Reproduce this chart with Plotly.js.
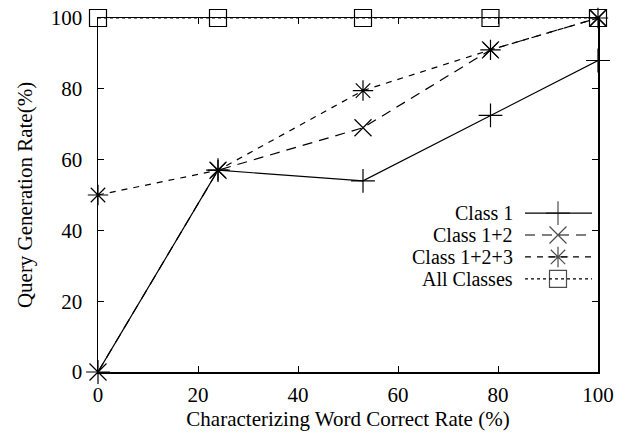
<!DOCTYPE html>
<html>
<head>
<meta charset="utf-8">
<script src="https://cdn.plot.ly/plotly-3.0.1.min.js"></script>
<style>html,body{margin:0;padding:0;background:#fff;}#chart{width:625px;height:439px;}</style>
</head>
<body>
<div id="chart"></div>
<script>
var xVals = [0, 24, 53, 78.5, 100];
var class1 = [0, 57, 54, 72.5, 88];
var class12 = [0, 57, 69, 91, 100];
var class123 = [50, 57, 79.5, 91, 100];
var allClasses = [100, 100, 100, 100, 100];
var seriesNames = ["Class 1", "Class 1+2", "Class 1+2+3", "All Classes"];
var tickVals = [0, 20, 40, 60, 80, 100];

var font = "'Liberation Serif', 'Times New Roman', serif";
var styles = [
  {dash: "solid", symbol: "cross-thin-open"},
  {dash: "10px,7px", symbol: "x-thin-open"},
  {dash: "6px,6px", symbol: "asterisk-open"},
  {dash: "3px,3px", symbol: "square-open"}
];
var seriesData = [class1, class12, class123, allClasses];

var traces = [];
seriesData.forEach(function(ys, i) {
  traces.push({
    x: xVals, y: ys, type: "scatter", mode: "lines+markers",
    name: seriesNames[i], showlegend: false, cliponaxis: false,
    line: {color: "#000", width: 1.2, dash: styles[i].dash},
    marker: {symbol: styles[i].symbol, size: 17, color: "#000", line: {color: "#000", width: 1.2}}
  });
});

// legend samples (layout positions in overlay axes)
var legRows = [0.449, 0.387, 0.325, 0.263];
var annotations = [];
seriesNames.forEach(function(n, i) {
  traces.push({
    x: [0.854, 0.92, 0.988], y: [legRows[i], legRows[i], legRows[i]],
    xaxis: "x2", yaxis: "y2", type: "scatter", mode: "lines+markers",
    showlegend: false, hoverinfo: "skip", cliponaxis: false,
    line: {color: "#000", width: 1.2, dash: styles[i].dash},
    marker: {symbol: styles[i].symbol, size: [0, 17, 0], color: "#000", line: {color: "#000", width: 1.2}}
  });
  annotations.push({
    text: n, xref: "paper", yref: "paper", x: 0.832, y: legRows[i],
    xanchor: "right", yanchor: "middle", showarrow: false, borderpad: 0,
    font: {family: font, size: 20, color: "#000"}
  });
});

var axisCommon = {
  range: [0, 100], tickvals: tickVals, ticktext: tickVals.map(String),
  ticks: "inside", ticklen: 6, tickwidth: 1, tickcolor: "#000",
  showline: true, linecolor: "#000", linewidth: 1.5, mirror: "allticks",
  showgrid: false, zeroline: false,
  tickfont: {family: font, size: 21, color: "#000"}
};

var layout = {
  width: 625, height: 439,
  margin: {l: 98, r: 27, t: 18, b: 67},
  paper_bgcolor: "#fff", plot_bgcolor: "#fff",
  showlegend: false,
  xaxis: Object.assign({}, axisCommon, {
    ticklabelstandoff: 3,
    title: {text: "Characterizing Word Correct Rate (%)", font: {family: font, size: 21, color: "#000"}, standoff: 5}
  }),
  yaxis: Object.assign({}, axisCommon, {
    ticklabelstandoff: 10,
    title: {text: "Query Generation Rate(%)", font: {family: font, size: 21, color: "#000"}, standoff: 12}
  }),
  xaxis2: {overlaying: "x", range: [0, 1], visible: false, fixedrange: true},
  yaxis2: {overlaying: "y", range: [0, 1], visible: false, fixedrange: true},
  annotations: annotations
};

Plotly.newPlot("chart", traces, layout, {displayModeBar: false, staticPlot: true});
</script>
</body>
</html>
